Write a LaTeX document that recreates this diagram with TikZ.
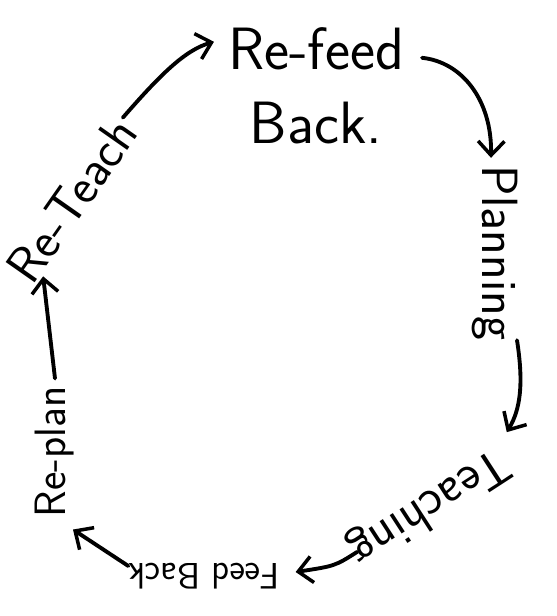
\documentclass[tikz,border=0pt]{standalone}
\usepackage{amsmath,amssymb}
\usepackage{xcolor}
\usepackage{tikz}
\usetikzlibrary{arrows.meta}

\begin{document}
\begin{tikzpicture}[x=0.02cm,y=-0.02cm,
		paso/.style={inner sep=1pt,font=\sffamily\fontsize{29}{40}\selectfont},
		flecha/.style={line width=2.2pt,line cap=round,
			-{Straight Barb[length=8pt,width=15pt,line width=2pt]}}]
		
		% Ventana
		\useasboundingbox (0,0) rectangle (557,616);
		
		% Etapas del ciclo
		\node[paso,align=center,font=\sffamily\fontsize{34}{42}\selectfont] (refeed) at (316,86) {Re-feed\\Back.};
		\node[paso,rotate=-90] (planning) at (495,253) {Planning};
		\node[paso,rotate=-147] (teaching) at (428,506) {Teaching};
		\node[paso,rotate=180,font=\sffamily\fontsize{21}{24}\selectfont] (feedback) at (204,576) {Feed Back};
		\node[paso,rotate=90,font=\sffamily\fontsize{25}{30}\selectfont] (replan) at (55,452) {Re-plan};
		\node[paso,rotate=55] (reteach) at (72,200) {Re-Teach};
		
		% Flechas
		\draw[flecha] ([shift={(-4,-4)}]reteach.east)
		.. controls (160,75) and (185,50) .. ([shift={(-12,16)}]refeed.north west);
		\draw[flecha] ([shift={(16,32)}]refeed.north east)
		.. controls (462,62) and (492,100) .. ([shift={(-4,-6)}]planning.west);
		\draw[flecha] ([shift={(22,-2)}]planning.east)
		.. controls (524,385) and (520,410) .. ([shift={(2,-24)}]teaching.west);
		\draw[flecha] ([shift={(6,-4)}]teaching.east)
		.. controls (335,566) .. ([shift={(14,-4)}]feedback.west);
		\draw[flecha] ([shift={(2,-10)}]feedback.east)
		-- ([shift={(18,10)}]replan.west);
		\draw[flecha] ([shift={(0,-6)}]replan.east)
		-- ([shift={(26,-2)}]reteach.west);
		
	\end{tikzpicture}
\end{document}
